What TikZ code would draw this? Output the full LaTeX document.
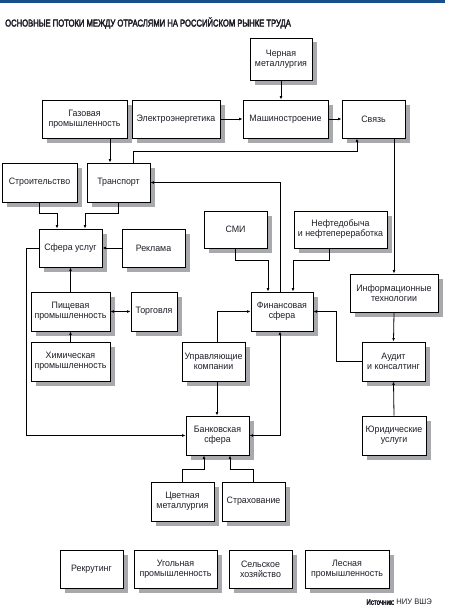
\documentclass[tikz,border=0pt]{standalone}
\usepackage{fontspec}
\setmainfont{Liberation Sans}[FakeStretch=0.95]
\newfontfamily\titlefont{Liberation Sans}[FakeStretch=0.765, FakeBold=3]
\usepackage{xcolor}
\usetikzlibrary{arrows.meta, shadows, calc}
\definecolor{barblue}{RGB}{24,78,138}
\definecolor{shadowgray}{RGB}{167,169,172}
\definecolor{inkblack}{RGB}{30,30,40}

\begin{document}
\begin{tikzpicture}[x=1pt, y=-1pt,
  branch/.style={draw=black, line width=0.8pt, fill=white, align=center,
                 inner sep=2pt, minimum width=63pt, minimum height=38pt,
                 font=\fontsize{9.3}{10}\selectfont, text=inkblack,
                 drop shadow={shadow xshift=4.5pt, shadow yshift=-4.5pt,
                              fill=shadowgray, opacity=1}},
  flow/.style={-{Latex[length=3.5pt,width=2.8pt]}, line width=0.8pt},
  flows/.style={{Latex[length=3.5pt,width=2.8pt]}-{Latex[length=3.5pt,width=2.8pt]}, line width=0.8pt},
]
\useasboundingbox (0,0) rectangle (449,610);
\fill[barblue] (0,0) rectangle (445,3);
\node[anchor=west, inner sep=0pt, text=inkblack,
      font=\titlefont\fontsize{10}{12}\selectfont] (title) at (5,23)
  {ОСНОВНЫЕ ПОТОКИ МЕЖДУ ОТРАСЛЯМИ НА РОССИЙСКОМ РЫНКЕ ТРУДА};

% top rows
\node[branch, minimum width=62pt, minimum height=42pt] (cherm) at (281,59) {Черная\\металлургия};
\node[branch, minimum width=85pt] (gaz) at (84.5,119) {Газовая\\промышленность};
\node[branch, minimum width=88pt] (elektro) at (176,119) {Электроэнергетика};
\node[branch, minimum width=85pt] (mash) at (285.5,119) {Машиностроение};
\node[branch] (svyaz) at (373.5,119) {Связь};
\node[branch, minimum width=75pt, minimum height=39pt] (stroi) at (39.5,182.5) {Строительство};
\node[branch, minimum height=39pt] (trans) at (118.5,182.5) {Транспорт};

% middle
\node[branch] (sfera) at (70.5,248) {Сфера услуг};
\node[branch] (reklama) at (153.5,248) {Реклама};
\node[branch, minimum height=37pt] (smi) at (235.5,229.5) {СМИ};
\node[branch, minimum width=93pt, minimum height=37pt] (neft) at (340.5,229.5) {Нефтедобыча\\и нефтепереработка};
\node[branch, minimum width=88pt] (it) at (394,293) {Информационные\\технологии};
\node[branch, minimum width=79pt, minimum height=39pt] (pishch) at (70.5,311.5) {Пищевая\\промышленность};
\node[branch, minimum width=46pt, minimum height=39pt] (torg) at (154,311.5) {Торговля};
\node[branch, minimum width=62pt, minimum height=39pt] (fin) at (282,311.5) {Финансовая\\сфера};
\node[branch, minimum width=79pt, minimum height=39pt] (khim) at (70.5,361.5) {Химическая\\промышленность};
\node[branch, minimum height=39pt] (upr) at (213.5,361.5) {Управляющие\\компании};
\node[branch, minimum height=39pt] (audit) at (393.5,361.5) {Аудит\\и консалтинг};

% lower
\node[branch, minimum height=39pt] (bank) at (217.5,435.5) {Банковская\\сфера};
\node[branch, minimum width=64pt, minimum height=39pt] (yurid) at (394,435.5) {Юридические\\услуги};
\node[branch, minimum height=39pt] (tsvet) at (182.5,501.5) {Цветная\\металлургия};
\node[branch, minimum height=39pt] (strakh) at (253.5,501.5) {Страхование};

% unconnected
\node[branch] (rekrut) at (91.5,569) {Рекрутинг};
\node[branch, minimum width=83pt] (ugol) at (175.5,569) {Угольная\\промышленность};
\node[branch] (selsk) at (260.5,569) {Сельское\\хозяйство};
\node[branch, minimum width=84pt] (lesn) at (347,569) {Лесная\\промышленность};

\node[anchor=east, inner sep=0pt, text=inkblack,
      font=\fontsize{8}{10}\selectfont] (source) at (432,602)
  {{\titlefont Источник:}\ НИУ ВШЭ};

% flows
\draw[flow] (cherm.south) -- (cherm.south |- mash.north);
\draw[flow] (elektro.east) -- (mash.west);
\draw[flow] (mash.east) -- (svyaz.west);
\draw[flow] ([xshift=-8.5pt]trans.north |- gaz.south) -- ([xshift=-8.5pt]trans.north);
\draw[flow] ([xshift=14.5pt]trans.north) -- ++(0,-11) -| ([xshift=-16.5pt]svyaz.south);
\draw[flow] ([xshift=-2pt]fin.north) |- (trans.east);
\draw[flow] (it.north |- svyaz.south) -- (it.north);
\draw[flow] (stroi.south) -- ++(0,11) -| ([xshift=-13.5pt]sfera.north);
\draw[flow] (trans.south) -- ++(0,11) -| ([xshift=14.5pt]sfera.north);
\draw[flow] (reklama.west) -- (sfera.east);
\draw[flow] (pishch.north) -- (sfera.south);
\draw[flow] (khim.north) -- (pishch.south);
\draw[flows] (pishch.east) -- (torg.west);
\draw[flow] (smi.south) -- ++(0,12) -| ([xshift=-14pt]fin.north);
\draw[flow] ([xshift=-11.5pt]neft.south) -- ++(0,12) -| ([xshift=11pt]fin.north);
\draw[flow] ([xshift=3.5pt]upr.north) |- (fin.west);
\draw[flow] (it.south) -- (audit.north);
\draw[flow] (audit.west) -- ++(-25,0) |- (fin.east);
\draw[flow] (yurid.north) -- (audit.south);
\draw[flow] (sfera.west) -- ++(-12,0) |- (bank.west);
\draw[flow] ([xshift=3.5pt]upr.south) -- ([xshift=3.5pt]upr.south |- bank.north);
\draw[flows] (bank.east) -| ([xshift=-2pt]fin.south);
\draw[flow] (tsvet.north) -- ++(0,-12) -| ([xshift=-13.5pt]bank.south);
\draw[flow] (strakh.north) -- ++(0,-12) -| ([xshift=12.5pt]bank.south);
\end{tikzpicture}
\end{document}
